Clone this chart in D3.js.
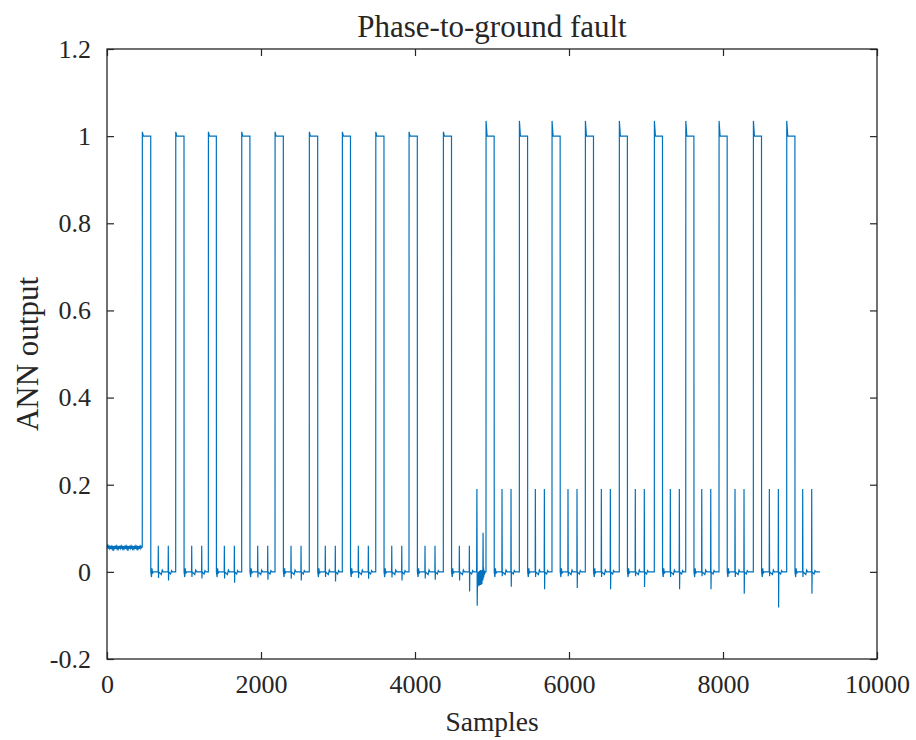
<!DOCTYPE html>
<html>
<head>
<meta charset="utf-8">
<script src="https://cdn.jsdelivr.net/npm/d3@7"></script>
<style>
  html, body { margin: 0; padding: 0; background: #fff; }
  svg { display: block; }
  text { font-family: "Liberation Serif", "Times New Roman", serif; fill: #262626; }
</style>
</head>
<body>
<svg id="chart" width="916" height="740"></svg>
<script>
// ---- data ----------------------------------------------------------
const title = "Phase-to-ground fault";
const xLabel = "Samples";
const yLabel = "ANN output";
const xTicks = [0, 2000, 4000, 6000, 8000, 10000];
const yTicks = [-0.2, 0, 0.2, 0.4, 0.6, 0.8, 1, 1.2];
const yTickLabels = ["-0.2", "0", "0.2", "0.4", "0.6", "0.8", "1", "1.2"];

// pre-fault output level (sample, value)
const initBand = [[0,0.056],[8,0.060],[16,0.053],[24,0.059],[32,0.054],[40,0.060],[48,0.052],[56,0.058],
  [64,0.054],[72,0.060],[80,0.048],[88,0.059],[96,0.054],[104,0.060],[112,0.053],[120,0.059],[128,0.054],
  [136,0.060],[144,0.049],[152,0.059],[160,0.053],[168,0.060],[176,0.054],[184,0.059],[192,0.053],[200,0.060],
  [208,0.049],[216,0.059],[224,0.054],[232,0.060],[240,0.053],[248,0.059],[256,0.054],[264,0.060],[272,0.048],
  [280,0.059],[288,0.053],[296,0.060],[304,0.054],[312,0.059],[320,0.053],[328,0.060],[336,0.049],[344,0.059],
  [352,0.054],[360,0.060],[368,0.053],[376,0.059],[384,0.054],[392,0.060],[400,0.049],[408,0.059],[416,0.053],
  [424,0.060],[432,0.054],[440,0.059],[448,0.055],[458,0.057]];

// trip pulses: rising edge, falling edge, overshoot at the rising edge
const pulseRise = [458, 892, 1316, 1749, 2182, 2627, 3056, 3490, 3922, 4368,
                   4922, 5355, 5779, 6212, 6653, 7108, 7516, 7948, 8394, 8827];
const pulseFall = [568, 1000, 1420, 1856, 2290, 2736, 3162, 3597, 4030, 4474,
                   5028, 5462, 5885, 6318, 6758, 7214, 7622, 8054, 8500, 8934];
const pulsePeak = [1.01, 1.01, 1.01, 1.01, 1.01, 1.01, 1.01, 1.01, 1.01, 1.01,
                   1.035, 1.035, 1.035, 1.035, 1.035, 1.035, 1.035, 1.035, 1.035, 1.035];
const pulseLevel = 1.0;

// transient spikes between pulses (first and second after each pulse)
const spikeA = [666, 1100, 1524, 1957, 2390, 2835, 3264, 3698, 4130, 4576,
                5130, 5563, 5987, 6420, 6861, 7316, 7724, 8156, 8602, 9035];
const spikeAUp = [0.06, 0.06, 0.06, 0.06, 0.06, 0.06, 0.06, 0.06, 0.06, 0.06,
                  0.19, 0.19, 0.19, 0.19, 0.19, 0.19, 0.19, 0.19, 0.19, 0.19];
const spikeADown = [-0.014, -0.012, -0.015, -0.013, -0.016, -0.012, -0.014, -0.013, -0.015, -0.02,
                    -0.01, -0.012, -0.01, -0.012, -0.01, -0.012, -0.01, -0.012, -0.01, -0.012];
const spikeB = [796, 1230, 1654, 2087, 2520, 2965, 3394, 3828, 4260, 4706,
                5247, 5680, 6104, 6537, 6978, 7433, 7841, 8273, 8719, 9152];
const spikeBUp = [0.06, 0.06, 0.06, 0.06, 0.06, 0.06, 0.06, 0.06, 0.06, 0.06,
                  0.19, 0.19, 0.19, 0.19, 0.19, 0.19, 0.19, 0.19, 0.19, 0.19];
const spikeBDown = [-0.02, -0.015, -0.025, -0.018, -0.02, -0.022, -0.016, -0.02, -0.018, -0.045,
                    -0.034, -0.04, -0.037, -0.04, -0.035, -0.04, -0.04, -0.05, -0.082, -0.05];

// disturbance at fault inception (sample, value)
const faultBurst = [[4800,0],[4804,0.19],[4808,-0.078],[4812,-0.01],[4815,-0.035],[4818,-0.005],[4821,-0.03],
  [4824,0.0],[4827,-0.028],[4830,-0.004],[4833,-0.032],[4836,0.002],[4839,-0.025],[4842,-0.006],[4845,-0.03],
  [4848,0.004],[4851,-0.022],[4854,-0.008],[4857,-0.03],[4860,0.003],[4863,-0.02],[4866,-0.01],[4869,-0.028],
  [4872,0.005],[4875,-0.018],[4878,-0.004],[4881,-0.02],[4884,0.09],[4887,-0.015],[4890,0.01],[4893,-0.012],
  [4896,0.004],[4899,-0.008],[4902,0.002],[4906,-0.004],[4912,0]];
const lastSample = 9260;

// ---- assemble the trace --------------------------------------------
const pts = initBand.slice();
function spike(s, up, down) {
  pts.push([s - 2, 0], [s, up], [s + 3, down], [s + 6, 0]);
}
pulseRise.forEach((r, i) => {
  pts.push([r, pts[pts.length - 1][1]]);
  pts.push([r + 1, pulsePeak[i]], [r + 14, pulseLevel], [pulseFall[i], pulseLevel]);
  const f = pulseFall[i];
  pts.push([f + 1, 0], [f + 10, -0.012], [f + 16, 0.008], [f + 24, -0.004], [f + 32, 0]);
  spike(spikeA[i], spikeAUp[i], spikeADown[i]);
  pts.push([spikeA[i] + 40, -0.006], [spikeA[i] + 52, 0.004], [spikeA[i] + 64, 0]);
  spike(spikeB[i], spikeBUp[i], spikeBDown[i]);
  pts.push([spikeB[i] + 30, -0.005], [spikeB[i] + 42, 0.003], [spikeB[i] + 54, 0]);
  if (i === 9) faultBurst.forEach(p => pts.push(p));
});
pts.push([lastSample, 0]);

// ---- layout --------------------------------------------------------
const svg = d3.select("#chart");
const box = { left: 107, right: 877, top: 49, bottom: 659 };
const x = d3.scaleLinear().domain([0, 10000]).range([box.left, box.right]);
const y = d3.scaleLinear().domain([-0.2, 1.2]).range([box.bottom, box.top]);
const axisColor = "#262626";
const tickLen = 7;
const tickFont = 26;

// trace
svg.append("path")
  .datum(pts)
  .attr("fill", "none")
  .attr("stroke", "#0072BD")
  .attr("stroke-width", 1.2)
  .attr("stroke-linejoin", "miter")
  .attr("d", d3.line().x(d => x(d[0])).y(d => y(d[1])));

// axes (ticks point inward on all four sides)
svg.append("g").attr("transform", `translate(0,${box.bottom})`)
  .call(d3.axisBottom(x).tickValues(xTicks).tickSize(-tickLen).tickPadding(16).tickFormat(d => d))
  .call(g => g.select(".domain").remove());
svg.append("g").attr("transform", `translate(0,${box.top})`)
  .call(d3.axisTop(x).tickValues(xTicks).tickSize(-tickLen).tickFormat(""))
  .call(g => g.select(".domain").remove());
svg.append("g").attr("transform", `translate(${box.left},0)`)
  .call(d3.axisLeft(y).tickValues(yTicks).tickSize(-tickLen).tickPadding(16)
    .tickFormat((d, i) => yTickLabels[i]))
  .call(g => g.select(".domain").remove());
svg.append("g").attr("transform", `translate(${box.right},0)`)
  .call(d3.axisRight(y).tickValues(yTicks).tickSize(-tickLen).tickFormat(""))
  .call(g => g.select(".domain").remove());

svg.selectAll(".tick line").attr("stroke", axisColor).attr("stroke-width", 1.2);
svg.selectAll(".tick text")
  .style("font-family", '"Liberation Serif", "Times New Roman", serif')
  .style("font-size", tickFont + "px")
  .attr("fill", axisColor);

svg.append("rect")
  .attr("x", box.left).attr("y", box.top)
  .attr("width", box.right - box.left).attr("height", box.bottom - box.top)
  .attr("fill", "none").attr("stroke", axisColor).attr("stroke-width", 1.3);

// titles
svg.append("text")
  .attr("x", (box.left + box.right) / 2).attr("y", 37)
  .attr("text-anchor", "middle").style("font-size", "31px")
  .text(title);
svg.append("text")
  .attr("x", (box.left + box.right) / 2).attr("y", 731)
  .attr("text-anchor", "middle").style("font-size", "27.5px")
  .text(xLabel);
svg.append("text")
  .attr("transform", `translate(38,${(box.top + box.bottom) / 2}) rotate(-90)`)
  .attr("text-anchor", "middle").style("font-size", "31px")
  .text(yLabel);
</script>
</body>
</html>
